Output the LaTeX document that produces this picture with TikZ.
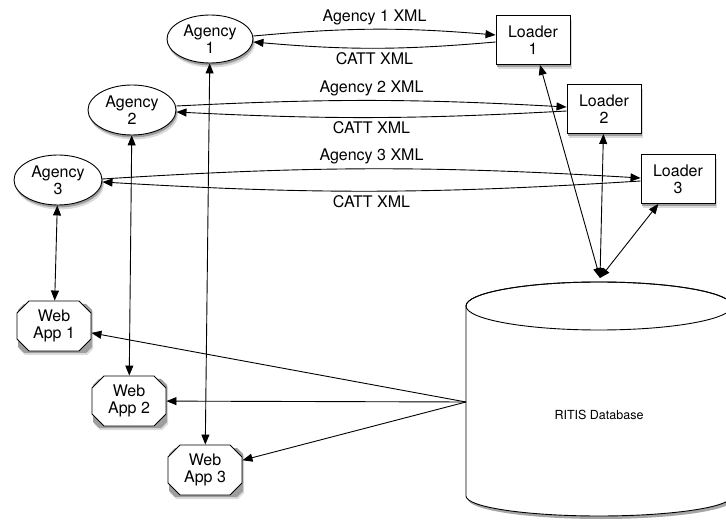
\documentclass[tikz,border=0pt]{standalone}
\usepackage{fontspec}
\setmainfont{TeX Gyre Heros}
\usetikzlibrary{arrows.meta,shapes.geometric,shapes.misc}
\begin{document}
\begin{tikzpicture}[x=1pt,y=-1pt,
  every node/.style={font=\fontsize{16}{17}\selectfont, align=center},
  agency/.style={ellipse, draw, fill=white, line width=0.9pt, minimum width=86pt, minimum height=48pt, inner sep=0pt},
  loader/.style={rectangle, draw, fill=white, line width=0.9pt, minimum width=74pt, minimum height=49pt, inner sep=0pt},
  webapp/.style={chamfered rectangle, chamfered rectangle xsep=6pt, chamfered rectangle ysep=6pt, draw, fill=white, line width=0.9pt, minimum width=74pt, minimum height=50pt, inner sep=0pt},
  shadlight/.style={fill=black!14},
  shaddark/.style={fill=black!38},
  tip/.tip={Triangle[length=10pt,width=8pt]},
  conn/.style={line width=0.9pt, -tip},
  biconn/.style={line width=0.9pt, tip-tip},
  lbl/.style={inner sep=4pt}
]
\useasboundingbox (0,0) rectangle (726,521);
\clip (0,0) rectangle (726,521);

% shadows
\foreach \x/\y/\w/\h in {210/39/43/24, 132/110/44/25, 58/180/44/25} {
  \fill[shadlight] (\x+2,\y+4.5) ellipse[x radius=\w, y radius=\h];
  \fill[shaddark] (\x+1,\y+2.5) ellipse[x radius=\w, y radius=\h];
}
\foreach \x/\y in {533/40, 604/109, 678/179} {
  \fill[shadlight] (\x-35,\y-20) rectangle (\x+39,\y+29);
  \fill[shaddark] (\x-36,\y-22) rectangle (\x+38,\y+27);
}
\foreach \x/\y in {54/326, 129/401, 205/470} {
  \fill[shadlight] (\x-35,\y-14) -- (\x-29,\y-20) -- (\x+33,\y-20) -- (\x+39,\y-14)
     -- (\x+39,\y+23) -- (\x+33,\y+29) -- (\x-29,\y+29) -- (\x-35,\y+23) -- cycle;
  \fill[shaddark] (\x-36,\y-16) -- (\x-30,\y-22) -- (\x+32,\y-22) -- (\x+38,\y-16)
     -- (\x+38,\y+21) -- (\x+32,\y+27) -- (\x-30,\y+27) -- (\x-36,\y+21) -- cycle;
}

% database cylinder
\fill[black!35]
  (468,320) -- (468,499) arc[start angle=180, end angle=0, x radius=133, y radius=20]
  -- (734,320) -- cycle;
\draw[fill=white, line width=0.9pt]
  (466,306) -- (466,496) arc[start angle=180, end angle=0, x radius=133, y radius=20]
  -- (732,306) arc[start angle=0, end angle=-180, x radius=133, y radius=24] -- cycle;
\draw[line width=0.9pt] (599,306) ellipse[x radius=133, y radius=24];
\node[font=\fontsize{12.5}{14}\selectfont] (db) at (599,415) {RITIS Database};
\coordinate (dbtop) at (600,278);
\coordinate (dbleft) at (466,402);

% nodes
\node[agency] (a1) at (210,39) {Agency\\1};
\node[agency, minimum width=88pt, minimum height=50pt] (a2) at (132,110) {Agency\\2};
\node[agency, minimum width=88pt, minimum height=50pt] (a3) at (58,180) {Agency\\3};
\node[loader] (l1) at (533,40) {Loader\\1};
\node[loader] (l2) at (604,109) {Loader\\2};
\node[loader] (l3) at (678,179) {Loader\\3};
\node[webapp] (w1) at (54,326) {Web\\App 1};
\node[webapp] (w2) at (129,401) {Web\\App 2};
\node[webapp] (w3) at (205,470) {Web\\App 3};

% agency <-> loader exchanges
\draw[conn] ([yshift=3pt]a1.east) to[bend left=5] node[lbl, above] {Agency 1 XML} ([yshift=5pt]l1.west);
\draw[conn] ([yshift=-2pt]l1.west) to[bend left=5] node[lbl, below] {CATT XML} ([yshift=-3pt]a1.east);
\draw[conn] ([yshift=4pt]a2.east) to[bend left=3] node[lbl, above] {Agency 2 XML} ([yshift=2pt]l2.west);
\draw[conn] ([yshift=-2pt]l2.west) to[bend left=3] node[lbl, below] {CATT XML} ([yshift=-2pt]a2.east);
\draw[conn] ([yshift=1pt]a3.east) to[bend left=3.5] node[lbl, above] {Agency 3 XML} ([yshift=1pt]l3.west);
\draw[conn] ([yshift=-2pt]l3.west) to[bend left=3.5] node[lbl, below] {CATT XML} ([yshift=-2pt]a3.east);

% agency <-> web app
\draw[biconn] (a3) -- (w1);
\draw[biconn] (a2) -- (w2);
\draw[biconn] (a1) -- (w3);

% database -> web apps
\draw[conn] (dbleft) -- (w1);
\draw[conn] (dbleft) -- (w2);
\draw[conn] (dbleft) -- (w3);

% loaders <-> database
\draw[biconn] (l1) -- (dbtop);
\draw[biconn] (l2) -- (dbtop);
\draw[biconn] (l3) -- (dbtop);
\end{tikzpicture}
\end{document}
